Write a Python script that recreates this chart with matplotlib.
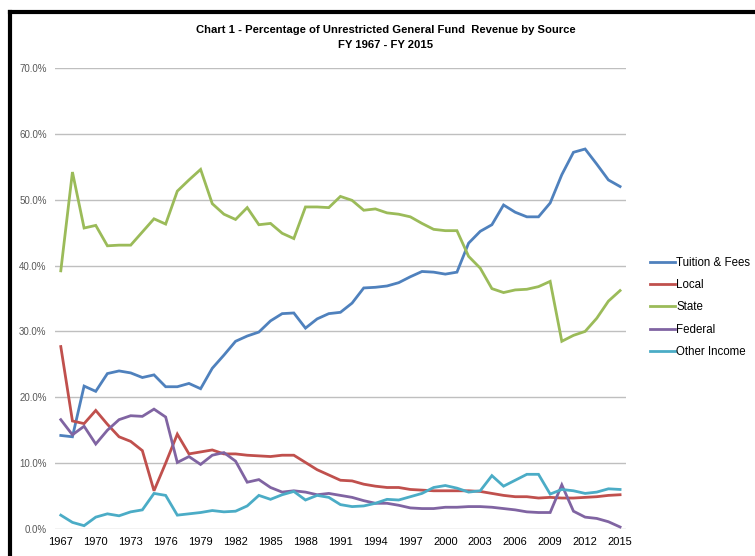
import matplotlib.pyplot as plt
from matplotlib.lines import Line2D

years = list(range(1967, 2016))

tuition = [14.2, 14.0, 21.7, 20.9, 23.6, 24.0, 23.7, 23.0, 23.4, 21.6,
           21.6, 22.1, 21.3, 24.4, 26.4, 28.5, 29.3, 29.9, 31.6, 32.7,
           32.8, 30.5, 31.9, 32.7, 32.9, 34.3, 36.6, 36.7, 36.9, 37.4,
           38.3, 39.1, 39.0, 38.7, 39.0, 43.4, 45.2, 46.2, 49.2, 48.1,
           47.4, 47.4, 49.5, 53.8, 57.2, 57.7, 55.4, 53.0, 52.0]
local = [27.7, 16.4, 16.0, 18.0, 15.9, 14.0, 13.3, 11.9, 5.8, 10.0,
         14.4, 11.4, 11.7, 12.0, 11.4, 11.4, 11.2, 11.1, 11.0, 11.2,
         11.2, 10.1, 9.0, 8.2, 7.4, 7.3, 6.8, 6.5, 6.3, 6.3,
         6.0, 5.9, 5.8, 5.8, 5.8, 5.8, 5.7, 5.4, 5.1, 4.9,
         4.9, 4.7, 4.8, 4.7, 4.7, 4.8, 4.9, 5.1, 5.2]
state = [39.2, 54.2, 45.7, 46.1, 43.0, 43.1, 43.1, 45.1, 47.1, 46.3,
         51.3, 53.0, 54.6, 49.4, 47.8, 47.0, 48.8, 46.2, 46.4, 44.9,
         44.1, 48.9, 48.9, 48.8, 50.5, 49.9, 48.4, 48.6, 48.0, 47.8,
         47.4, 46.4, 45.5, 45.3, 45.3, 41.4, 39.6, 36.5, 35.9, 36.3,
         36.4, 36.8, 37.6, 28.5, 29.4, 30.0, 32.0, 34.6, 36.2]
federal = [16.6, 14.3, 15.6, 12.9, 15.0, 16.6, 17.2, 17.1, 18.2, 17.0,
           10.1, 11.0, 9.8, 11.2, 11.6, 10.3, 7.1, 7.5, 6.3, 5.6,
           5.8, 5.6, 5.2, 5.4, 5.1, 4.8, 4.3, 3.9, 3.9, 3.6,
           3.2, 3.1, 3.1, 3.3, 3.3, 3.4, 3.4, 3.3, 3.1, 2.9,
           2.6, 2.5, 2.5, 6.7, 2.7, 1.8, 1.6, 1.1, 0.3]
other = [2.1, 1.0, 0.5, 1.8, 2.3, 2.0, 2.6, 2.9, 5.4, 5.1,
         2.1, 2.3, 2.5, 2.8, 2.6, 2.7, 3.5, 5.1, 4.5, 5.2,
         5.7, 4.4, 5.1, 4.8, 3.7, 3.4, 3.5, 3.9, 4.5, 4.4,
         4.9, 5.4, 6.3, 6.6, 6.2, 5.6, 5.8, 8.1, 6.5, 7.4,
         8.3, 8.3, 5.3, 6.0, 5.8, 5.4, 5.6, 6.1, 6.0]

series = [("Tuition & Fees", tuition, "#4F81BD"),
          ("Local", local, "#C0504D"),
          ("State", state, "#9BBB59"),
          ("Federal", federal, "#8064A2"),
          ("Other Income", other, "#4BACC6")]

plt.rcParams['font.family'] = ['Liberation Sans', 'DejaVu Sans']

fig = plt.figure(figsize=(7.55, 5.56), dpi=100)
ax = fig.add_axes([0.0728, 0.0486, 0.7562, 0.8291])

handles = []
for name, vals, color in series:
    h, = ax.plot(years, [v / 100 for v in vals], color=color, lw=2.0,
                 label=name, solid_joinstyle='miter')
    handles.append(h)

ax.set_xlim(1966.5, 2015.5)
ax.set_ylim(0, 0.70)
ax.set_yticks([i / 10 for i in range(8)])
ax.set_yticklabels([f"{i * 10:.1f}%" for i in range(8)], fontsize=7, color='#595959')
ax.set_xticks(years[::3])
ax.set_xticklabels([str(y) for y in years[::3]], fontsize=8, color='black')
ax.tick_params(length=0, pad=6)
ax.grid(axis='y', color='#BFBFBF', lw=1)
ax.set_axisbelow(True)
for s in ax.spines.values():
    s.set_visible(False)

fig.text(0.511, 0.946, "Chart 1 - Percentage of Unrestricted General Fund  Revenue by Source",
         ha='center', va='center', fontsize=8.1, fontweight='bold')
fig.text(0.511, 0.919, "FY 1967 - FY 2015", ha='center', va='center',
         fontsize=8.1, fontweight='bold')

fig.legend(handles=handles, loc='center left', bbox_to_anchor=(0.855, 0.447),
           frameon=False, fontsize=8.3, handlelength=2.2, handletextpad=0.05,
           labelspacing=0.88, borderaxespad=0)

# black frame on left and top
fig.add_artist(Line2D([10 / 755, 10 / 755], [0, 1 - 12 / 556], color='black', lw=3,
                      transform=fig.transFigure, solid_capstyle='projecting'))
fig.add_artist(Line2D([10 / 755, 1], [1 - 12 / 556, 1 - 12 / 556], color='black', lw=3,
                      transform=fig.transFigure, solid_capstyle='projecting'))

fig.savefig("out.png", dpi=100)
